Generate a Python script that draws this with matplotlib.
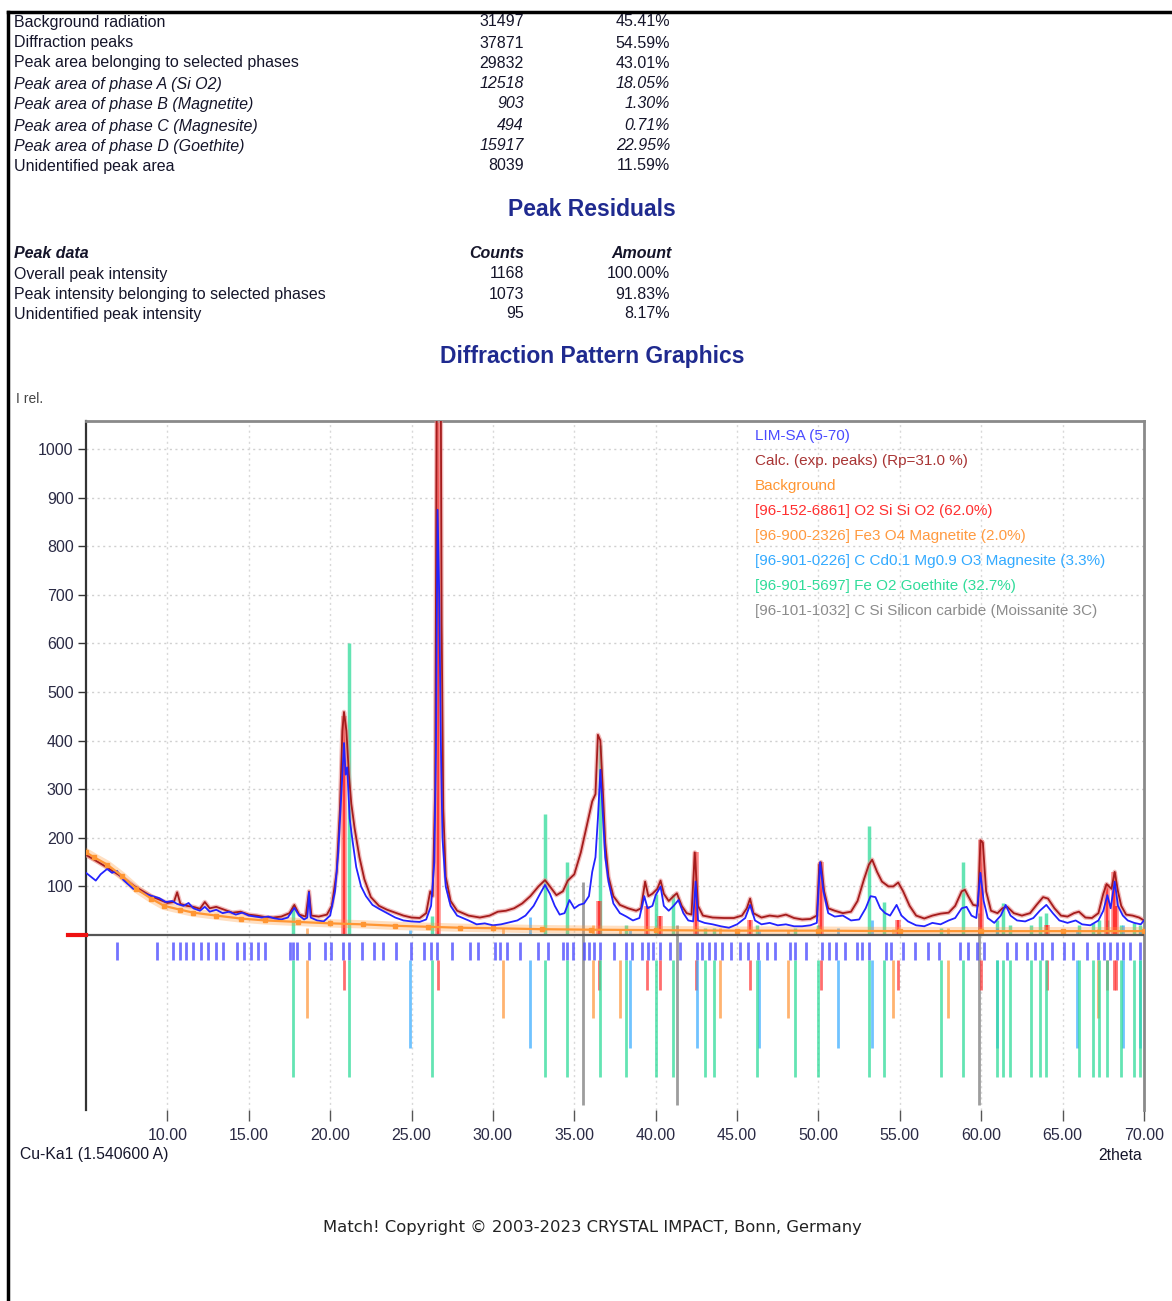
import matplotlib
matplotlib.use('Agg')
import matplotlib.pyplot as plt
from matplotlib.lines import Line2D

# ---- report tables ----
area_labels = ['Background radiation', 'Diffraction peaks', 'Peak area belonging to selected phases',
               'Peak area of phase A (Si O2)', 'Peak area of phase B (Magnetite)',
               'Peak area of phase C (Magnesite)', 'Peak area of phase D (Goethite)',
               'Unidentified peak area']
area_counts = ['31497', '37871', '29832', '12518', '903', '494', '15917', '8039']
area_pct = ['45.41%', '54.59%', '43.01%', '18.05%', '1.30%', '0.71%', '22.95%', '11.59%']
area_italic = [False, False, False, True, True, True, True, False]

resid_labels = ['Overall peak intensity', 'Peak intensity belonging to selected phases',
                'Unidentified peak intensity']
resid_counts = ['1168', '1073', '95']
resid_pct = ['100.00%', '91.83%', '8.17%']

# ---- diffraction pattern (2theta, intensity) ----
obs_x = [5.0, 5.3, 5.6, 5.9, 6.3, 6.6, 6.9, 7.3, 7.6, 7.9, 8.3, 8.7, 9.1, 9.5, 9.9, 10.3, 10.6, 11.0,
         11.3, 11.6, 12.0, 12.3, 12.6, 13.0, 13.4, 13.8, 14.2, 14.6, 15.0, 15.4, 15.8, 16.2, 16.6, 17.0,
         17.4, 17.8, 18.1, 18.4, 18.6, 18.7, 18.8, 19.2, 19.6, 20.0, 20.3, 20.5, 20.7, 20.85, 20.95,
         21.05, 21.2, 21.35, 21.6, 21.9, 22.2, 22.6, 23.0, 23.5, 24.0, 24.5, 25.0, 25.5, 25.9, 26.2,
         26.4, 26.5, 26.6, 26.7, 26.8, 26.9, 27.1, 27.4, 27.8, 28.5, 29.0, 29.5, 30.0, 30.5, 31.0,
         31.5, 32.0, 32.5, 32.9, 33.2, 33.5, 33.8, 34.1, 34.4, 34.7, 35.0, 35.3, 35.6, 35.9, 36.1,
         36.3, 36.45, 36.6, 36.75, 36.9, 37.1, 37.4, 37.8, 38.2, 38.6, 39.0, 39.3, 39.5, 39.8, 40.0,
         40.3, 40.5, 40.8, 41.1, 41.4, 41.7, 42.0, 42.3, 42.45, 42.6, 43.0, 43.5, 44.0, 44.5, 45.0,
         45.5, 45.8, 46.1, 46.5, 47.0, 47.5, 48.0, 48.5, 49.0, 49.5, 49.9, 50.1, 50.3, 50.6, 51.0,
         51.5, 52.0, 52.5, 52.9, 53.2, 53.5, 53.8, 54.1, 54.4, 54.8, 55.1, 55.5, 56.0, 56.5, 57.0,
         57.5, 58.0, 58.4, 58.8, 59.1, 59.4, 59.7, 59.95, 60.15, 60.4, 60.8, 61.2, 61.5, 61.8, 62.2,
         62.7, 63.2, 63.6, 64.0, 64.4, 64.8, 65.3, 65.8, 66.2, 66.7, 67.2, 67.5, 67.75, 67.95, 68.2,
         68.4, 68.7, 69.0, 69.4, 69.8, 70.0]
obs_y = [128, 120, 112, 125, 136, 128, 132, 113, 104, 95, 90, 84, 80, 76, 68, 70, 64, 60,
         66, 55, 50, 58, 48, 52, 45, 48, 42, 46, 40, 38, 36, 38, 34, 32,
         36, 56, 40, 32, 36, 88, 36, 30, 28, 40, 90, 170, 300, 395, 330,
         345, 240, 200, 140, 100, 80, 62, 54, 45, 36, 30, 28, 27, 32, 60,
         150, 380, 875, 700, 400, 200, 100, 60, 40, 30, 22, 24, 20, 22, 26,
         30, 40, 60, 85, 103, 85, 60, 42, 45, 72, 55, 62, 65, 80, 130,
         160, 240, 340, 250, 160, 110, 65, 45, 38, 30, 35, 80, 55, 60, 82,
         100, 60, 50, 60, 72, 45, 30, 28, 110, 30, 25, 22, 18, 15, 22,
         35, 62, 30, 22, 25, 20, 22, 18, 18, 20, 25, 150, 90, 45, 38,
         40, 30, 32, 55, 80, 78, 55, 45, 40, 62, 40, 28, 20, 18, 25,
         22, 30, 35, 55, 58, 40, 35, 128, 70, 35, 25, 40, 62, 40, 30,
         28, 35, 50, 62, 45, 30, 25, 30, 22, 20, 30, 50, 82, 55, 110,
         60, 40, 30, 25, 22, 30]

calc_x = [5.0, 6.0, 7.0, 8.0, 9.0, 10.0, 10.4, 10.6, 10.8, 11.2, 11.6, 12.0, 12.3, 12.6, 13.0, 13.5,
          14.0, 14.5, 15.0, 15.5, 16.0, 16.5, 17.0, 17.5, 17.8, 18.1, 18.5, 18.7, 18.85, 19.3, 19.8,
          20.1, 20.4, 20.6, 20.75, 20.85, 21.0, 21.15, 21.3, 21.5, 21.8, 22.1, 22.5, 23.0, 23.5, 24.0,
          24.5, 25.0, 25.5, 25.9, 26.15, 26.3, 26.45, 26.55, 26.8, 26.85, 26.95, 27.1, 27.4, 27.8,
          28.5, 29.2, 29.8, 30.3, 30.8, 31.3, 31.8, 32.3, 32.8, 33.2, 33.5, 33.9, 34.3, 34.6, 35.0,
          35.4, 35.8, 36.1, 36.3, 36.45, 36.6, 36.75, 36.9, 37.1, 37.4, 37.8, 38.3, 38.8, 39.1, 39.35,
          39.55, 39.8, 40.1, 40.3, 40.5, 40.8, 41.1, 41.3, 41.6, 41.9, 42.2, 42.4, 42.6, 42.9, 43.5,
          44.2, 44.8, 45.3, 45.6, 45.8, 46.0, 46.5, 47.0, 47.5, 48.0, 48.5, 49.0, 49.5, 49.9, 50.05,
          50.15, 50.35, 50.6, 51.0, 51.5, 52.0, 52.4, 52.8, 53.1, 53.3, 53.6, 53.9, 54.3, 54.6, 54.9,
          55.2, 55.6, 56.0, 56.5, 57.0, 57.5, 58.0, 58.4, 58.8, 59.0, 59.2, 59.5, 59.8, 59.95, 60.1,
          60.3, 60.6, 61.0, 61.3, 61.6, 62.0, 62.5, 63.0, 63.4, 63.8, 64.1, 64.5, 64.9, 65.3, 65.7,
          66.0, 66.4, 66.8, 67.2, 67.5, 67.7, 67.85, 68.0, 68.2, 68.4, 68.6, 68.9, 69.3, 69.7, 70.0]
calc_y = [165, 145, 124, 100, 80, 66, 68, 88, 64, 60, 58, 54, 68, 55, 58, 52,
          46, 48, 42, 40, 37, 36, 38, 45, 62, 42, 38, 90, 40, 38, 42,
          60, 130, 260, 420, 459, 420, 330, 270, 220, 160, 115, 78, 60, 52, 46,
          40, 36, 35, 45, 90, 80, 300, 1100, 1100, 640, 260, 120, 70, 50,
          40, 36, 40, 48, 50, 55, 65, 80, 100, 113, 100, 82, 90, 112, 125,
          170, 230, 275, 290, 412, 400, 300, 190, 120, 80, 62, 55, 50, 55, 110,
          80, 85, 95, 112, 85, 70, 80, 86, 60, 45, 42, 170, 60, 40, 36,
          35, 35, 40, 55, 75, 45, 36, 40, 38, 42, 35, 32, 33, 40, 145,
          150, 90, 55, 50, 45, 48, 70, 115, 145, 155, 130, 110, 100, 100, 108,
          90, 60, 40, 34, 40, 44, 46, 60, 90, 93, 80, 62, 60, 195, 190,
          90, 50, 45, 55, 58, 45, 40, 45, 62, 78, 75, 55, 40, 38, 45,
          48, 36, 35, 45, 85, 105, 100, 95, 130, 90, 60, 42, 40, 36, 30]

bg_x = [5.0, 5.5, 6.3, 7.2, 8.1, 9.0, 9.8, 10.8, 11.6, 13.0, 14.5, 16.0, 18.0, 20.0, 22.0, 24.0,
        26.0, 28.0, 30.0, 33.0, 36.0, 40.0, 45.0, 50.0, 55.0, 60.0, 65.0, 70.0]
bg_y = [170, 160, 145, 122, 95, 75, 60, 52, 46, 40, 34, 30, 27, 24, 22, 19,
        17, 15, 14, 12, 11, 10, 9, 9, 8, 8, 8, 8]

# observed peak markers (below the zero line)
peak_pos = [6.91, 9.36, 10.35, 10.78, 11.15, 11.58, 12.07, 12.5, 12.99, 13.42, 14.28, 14.71, 15.14,
            15.57, 16.0, 17.54, 17.72, 17.97, 18.71, 19.69, 20.06, 20.8, 21.16, 21.96, 22.7, 23.25,
            24.05, 24.98, 25.77, 26.2, 26.57, 27.5, 28.6, 29.09, 30.14, 30.45, 30.88, 31.67, 32.78,
            33.4, 34.32, 34.56, 34.93, 35.61, 35.92, 36.22, 36.59, 37.45, 38.19, 38.56, 39.17, 39.54,
            39.85, 40.28, 40.89, 41.51, 42.55, 42.86, 43.29, 43.66, 44.09, 44.64, 45.2, 45.69, 46.3,
            46.86, 47.35, 48.27, 48.58, 49.25, 50.24, 50.67, 51.1, 51.65, 52.39, 52.7, 53.13, 54.17,
            54.48, 55.22, 55.95, 56.75, 57.43, 58.72, 59.21, 59.76, 60.19, 61.61, 62.16, 62.84,
            63.33, 63.76, 64.37, 65.11, 65.66, 66.52, 67.2, 67.57, 67.94, 68.37, 68.74, 69.17, 69.78]

# phase reference lines (position, relative height in the pattern)
quartz_pos = [20.86, 26.64, 36.54, 39.46, 40.29, 42.45, 45.79, 50.14, 54.87, 59.96, 64.03, 67.74, 68.14, 68.31]
quartz_int = [450, 1100, 70, 60, 40, 170, 30, 150, 30, 195, 20, 105, 130, 60]
magnetite_pos = [18.58, 30.63, 36.16, 37.82, 43.97, 48.15, 54.6, 57.98, 67.2]
magnetite_int = [15, 15, 20, 12, 15, 10, 12, 15, 12]
magnesite_pos = [24.91, 32.29, 38.44, 42.55, 46.36, 51.22, 53.31, 60.99, 65.91, 68.74, 69.78]
magnesite_int = [10, 37, 10, 15, 10, 15, 30, 15, 10, 20, 10]
goethite_pos = [17.72, 21.16, 26.27, 33.21, 34.56, 36.59, 38.19, 40.03, 41.08, 43.04, 43.6, 46.24,
                48.58, 49.99, 53.13, 54.05, 57.55, 58.9, 60.99, 61.36, 61.79, 63.08, 63.64, 64.0,
                66.03, 66.89, 67.26, 67.75, 68.61, 69.41, 69.78]
goethite_int = [62, 600, 40, 250, 150, 390, 20, 85, 85, 15, 15, 20,
                15, 20, 225, 68, 15, 150, 30, 66, 20, 20, 40, 45,
                20, 25, 30, 30, 20, 25, 20]
moiss_pos = [35.55, 41.32, 59.89]
moiss_int = [110, 20, 45]

legend_labels = ['LIM-SA (5-70)', 'Calc. (exp. peaks) (Rp=31.0 %)', 'Background',
                 '[96-152-6861] O2 Si Si O2 (62.0%)', '[96-900-2326] Fe3 O4 Magnetite (2.0%)',
                 '[96-901-0226] C Cd0.1 Mg0.9 O3 Magnesite (3.3%)',
                 '[96-901-5697] Fe O2 Goethite (32.7%)',
                 '[96-101-1032] C Si Silicon carbide (Moissanite 3C)']

c_obs = '#2323ff'
c_calc = '#a51c1c'
c_bg = '#ff9633'
c_quartz = '#ff3030'
c_magnetite = '#ff9a40'
c_magnesite = '#33aaff'
c_goethite = '#30dc9a'
c_moiss = '#8c8c8c'
legend_colors = ['#4a4aff', '#a83434', c_bg, c_quartz, c_magnetite, c_magnesite, c_goethite, c_moiss]

W, H = 1172, 1301
plt.rcParams['font.family'] = ['Liberation Sans', 'DejaVu Sans']
fig = plt.figure(figsize=(W / 100, H / 100), dpi=100)


def fx(x):
    return x / W


def fy(y):
    return 1 - y / H


txt = '#15152a'
navy = '#1f2a8f'
fs = 11.5

# page frame
fig.add_artist(Line2D([fx(8), 1], [fy(12), fy(12)], color='black', lw=2.5, transform=fig.transFigure))
fig.add_artist(Line2D([fx(8), fx(8)], [fy(12), 0], color='black', lw=2.5, transform=fig.transFigure))

# first table
row_y = [22, 43, 63, 84, 104, 126, 146, 166]
for lab, cnt, pct, it, y in zip(area_labels, area_counts, area_pct, area_italic, row_y):
    st = 'italic' if it else 'normal'
    fig.text(fx(14), fy(y), lab, fontsize=fs, style=st, color=txt, va='center')
    fig.text(fx(524), fy(y), cnt, fontsize=fs, style=st, color=txt, va='center', ha='right')
    fig.text(fx(670), fy(y), pct, fontsize=fs, style=st, color=txt, va='center', ha='right')

fig.text(fx(592), fy(209), 'Peak Residuals', fontsize=16.5, fontweight='bold', color=navy,
         ha='center', va='center')

fig.text(fx(14), fy(253), 'Peak data', fontsize=fs, fontweight='bold', style='italic', color=txt, va='center')
fig.text(fx(524), fy(253), 'Counts', fontsize=fs, fontweight='bold', style='italic', color=txt,
         va='center', ha='right')
fig.text(fx(672), fy(253), 'Amount', fontsize=fs, fontweight='bold', style='italic', color=txt,
         va='center', ha='right')
for lab, cnt, pct, y in zip(resid_labels, resid_counts, resid_pct, [274, 294, 314]):
    fig.text(fx(14), fy(y), lab, fontsize=fs, color=txt, va='center')
    fig.text(fx(524), fy(y), cnt, fontsize=fs, color=txt, va='center', ha='right')
    fig.text(fx(670), fy(y), pct, fontsize=fs, color=txt, va='center', ha='right')

fig.text(fx(592), fy(357), 'Diffraction Pattern Graphics', fontsize=16.5, fontweight='bold', color=navy,
         ha='center', va='center')
fig.text(fx(16), fy(399), 'I rel.', fontsize=10, color='#444444', va='center')

# plot area
ax = fig.add_axes([fx(86), fy(1110), fx(1144) - fx(86), fy(421) - fy(1110)])
ax.set_xlim(5, 70)
ax.set_ylim(-360, 1057.6)

for v in range(100, 1001, 100):
    ax.axhline(v, color='#d0d0d0', lw=1, ls=(0, (1.5, 2.5)), zorder=0)
for v in range(10, 70, 5):
    ax.axvline(v, color='#d8d8d8', lw=1, ls=(0, (1.5, 2.5)), zorder=0)

# phase lines in the pattern
ax.vlines(goethite_pos, 0, goethite_int, color=c_goethite, lw=2.5, alpha=0.75, zorder=2)
ax.vlines(magnesite_pos, 0, magnesite_int, color=c_magnesite, lw=2, alpha=0.7, zorder=2)
ax.vlines(magnetite_pos, 0, magnetite_int, color=c_magnetite, lw=2, alpha=0.7, zorder=2)
ax.vlines(moiss_pos, moiss_int, -350, color=c_moiss, lw=2, alpha=0.85, zorder=2)
ax.vlines(quartz_pos, 0, quartz_int, color=c_quartz, lw=4, alpha=0.55, zorder=2)
ax.vlines(quartz_pos, 0, quartz_int, color=c_quartz, lw=1.5, alpha=0.9, zorder=2)

# curves
ax.plot(bg_x, bg_y, color=c_bg, lw=6, alpha=0.3, zorder=3)
ax.plot(calc_x, calc_y, color='#e89090', lw=3.2, alpha=0.6, zorder=4)
ax.plot(calc_x, calc_y, color=c_calc, lw=1.3, zorder=4)
ax.plot(obs_x, obs_y, color=c_obs, lw=1.3, zorder=5)
ax.plot(bg_x, bg_y, color=c_bg, lw=1.6, marker='s', ms=3.5, zorder=6)

# zero line and marker
ax.axhline(0, color='#555555', lw=1.6, zorder=7)
ax.plot([3.9, 5.0], [0, 0], color='#ee1111', lw=3, clip_on=False, zorder=8)

# stick lanes below the pattern
ax.vlines(peak_pos, -14, -52, color='#5050ff', lw=2, alpha=0.8)
ax.vlines(quartz_pos, -52, -113, color=c_quartz, lw=2, alpha=0.7)
ax.vlines(magnetite_pos, -52, -171, color=c_magnetite, lw=2, alpha=0.75)
ax.vlines(magnesite_pos, -52, -233, color=c_magnesite, lw=2, alpha=0.7)
ax.vlines(goethite_pos, -52, -292, color=c_goethite, lw=2, alpha=0.75)

# axes styling
ax.spines['bottom'].set_visible(False)
ax.spines['left'].set_color('#333333')
ax.spines['left'].set_linewidth(1.6)
for s in ['top', 'right']:
    ax.spines[s].set_color('#8a8a8a')
    ax.spines[s].set_linewidth(2)

ax.set_yticks(range(100, 1001, 100))
ax.set_yticklabels([str(v) for v in range(100, 1001, 100)])
ax.tick_params(axis='y', direction='out', length=6, width=1, color='#333333', labelsize=11.5,
               labelcolor='#2a2a44', pad=3)
ax.set_xticks(range(10, 71, 5))
ax.set_xticklabels(['%.2f' % v for v in range(10, 71, 5)])
ax.tick_params(axis='x', direction='out', length=8, width=1, color='#555555', labelsize=11.5,
               labelcolor='#2a2a44', pad=5)

# legend text
for i, (lab, col) in enumerate(zip(legend_labels, legend_colors)):
    fig.text(fx(755), fy(436 + 25 * i), lab, fontsize=11, color=col, va='center')

fig.text(fx(20), fy(1155), 'Cu-Ka1 (1.540600 A)', fontsize=11.3, color=txt, va='center')
fig.text(fx(1142), fy(1155), '2theta', fontsize=11.3, color=txt, va='center', ha='right')
fig.text(fx(592), fy(1227), 'Match! Copyright \u00a9 2003-2023 CRYSTAL IMPACT, Bonn, Germany',
         fontsize=11.8, family='DejaVu Sans', color='#222222', ha='center', va='center')

fig.savefig('out.png', dpi=100)
